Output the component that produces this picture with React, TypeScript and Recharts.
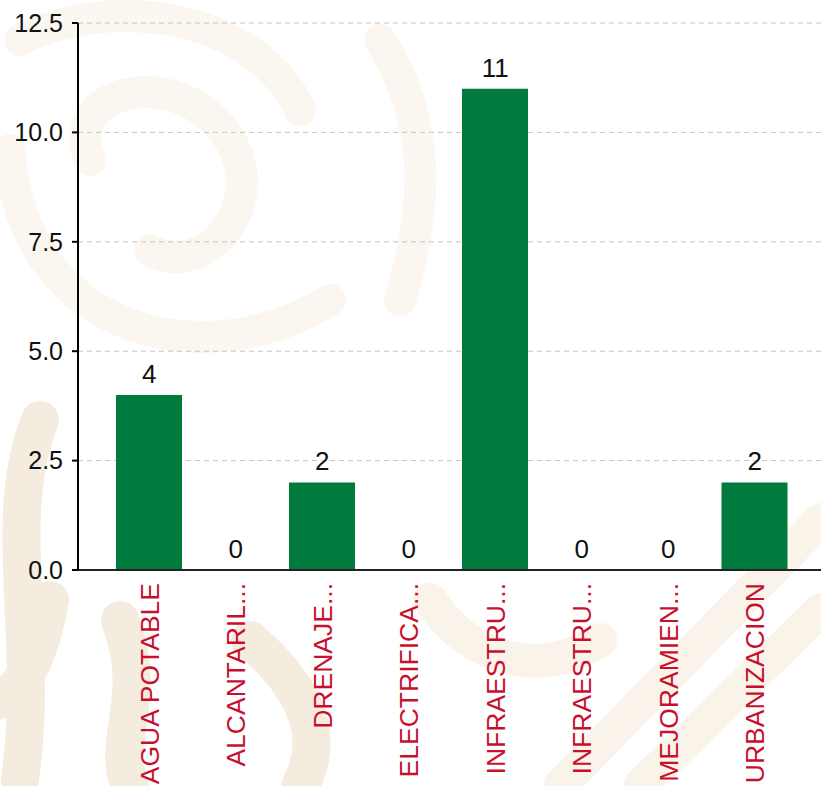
import { ComposedChart, Bar, Line, XAxis, YAxis, CartesianGrid, LabelList } from 'recharts';

const categories = [
  'AGUA POTABLE',
  'ALCANTARIL...',
  'DRENAJE...',
  'ELECTRIFICA...',
  'INFRAESTRU...',
  'INFRAESTRU...',
  'MEJORAMIEN...',
  'URBANIZACION',
];
const counts = [4, 0, 2, 0, 11, 0, 0, 2];
const yTicks = [0, 2.5, 5, 7.5, 10, 12.5];

const data = categories.map((name, i) => ({ key: `${name}-${i}`, name, value: counts[i] }));

const FONT = "'Liberation Sans', Arial, sans-serif";

function CategoryTick(props: any) {
  const { x, y, payload } = props;
  const label = categories[payload.index] ?? payload.value;
  const ty = y + 5;
  return (
    <text
      x={x}
      y={ty}
      transform={`rotate(-90, ${x}, ${ty})`}
      textAnchor="end"
      dy="0.36em"
      fill="#C8102E"
      fontSize={26.5}
      fontFamily={FONT}
    >
      {label}
    </text>
  );
}

// faint watermark behind the chart, stronger at bottom-left
function Watermark() {
  return (
    <svg width={821} height={786} style={{ position: 'absolute', left: 0, top: 0 }}>
      <g fill="none" stroke="#fbf7f0" strokeWidth={32} strokeLinecap="round">
        <path d="M 20 40 C 120 -10, 260 20, 300 110" />
        <path d="M 90 160 C 60 90, 180 60, 230 140 C 270 210, 200 280, 150 250" />
        <path d="M 10 150 C 20 330, 200 380, 330 300" />
        <path d="M 380 40 C 430 120, 430 200, 400 300" />
      </g>
      <g fill="none" stroke="#f9f3ea" strokeWidth={34} strokeLinecap="round">
        <path d="M 560 786 L 821 520" />
        <path d="M 640 786 L 821 610" />
        <path d="M 430 600 C 470 660, 540 680, 600 640" />
      </g>
      <g fill="none" stroke="#f4ecde" strokeWidth={38} strokeLinecap="round">
        <path d="M 40 420 C 0 520, 40 640, 20 780" />
        <path d="M 120 620 C 150 700, 110 740, 130 786" />
        <path d="M 250 640 C 320 700, 320 750, 300 786" />
        <path d="M 50 600 C 40 660, 20 690, 0 700" />
      </g>
    </svg>
  );
}

export default function App() {
  return (
    <div style={{ position: 'relative', width: 821, height: 786, background: '#fff', fontFamily: FONT, overflow: 'hidden' }}>
      <style>{'body{margin:0}'}</style>
      <Watermark />
      <div style={{ position: 'absolute', left: 0, top: 0 }}>
        <ComposedChart
          width={821}
          height={786}
          data={data}
          margin={{ top: 23, right: 0, left: 0, bottom: 0 }}
          barSize={66}
        >
          <CartesianGrid vertical={false} stroke="#c4c4c4" strokeDasharray="5 4" />
          <XAxis
            dataKey="key"
            height={216}
            interval={0}
            tickLine={false}
            stroke="#222"
            strokeWidth={2}
            padding={{ left: 28, right: 23 }}
            tick={<CategoryTick />}
          />
          <YAxis
            width={78}
            domain={[0, 12.5]}
            ticks={yTicks}
            tickFormatter={(v: number) => v.toFixed(1)}
            tickSize={6}
            tickMargin={9}
            stroke="#000"
            strokeWidth={2}
            tick={{ fill: '#111', fontSize: 25, fontFamily: FONT }}
          />
          <Bar dataKey="value" fill="#007A3D" isAnimationActive={false} />
          <Line dataKey="value" stroke="none" dot={false} activeDot={false} isAnimationActive={false}>
            <LabelList dataKey="value" position="top" offset={12} fill="#111" fontSize={26} fontFamily={FONT} />
          </Line>
        </ComposedChart>
      </div>
    </div>
  );
}
